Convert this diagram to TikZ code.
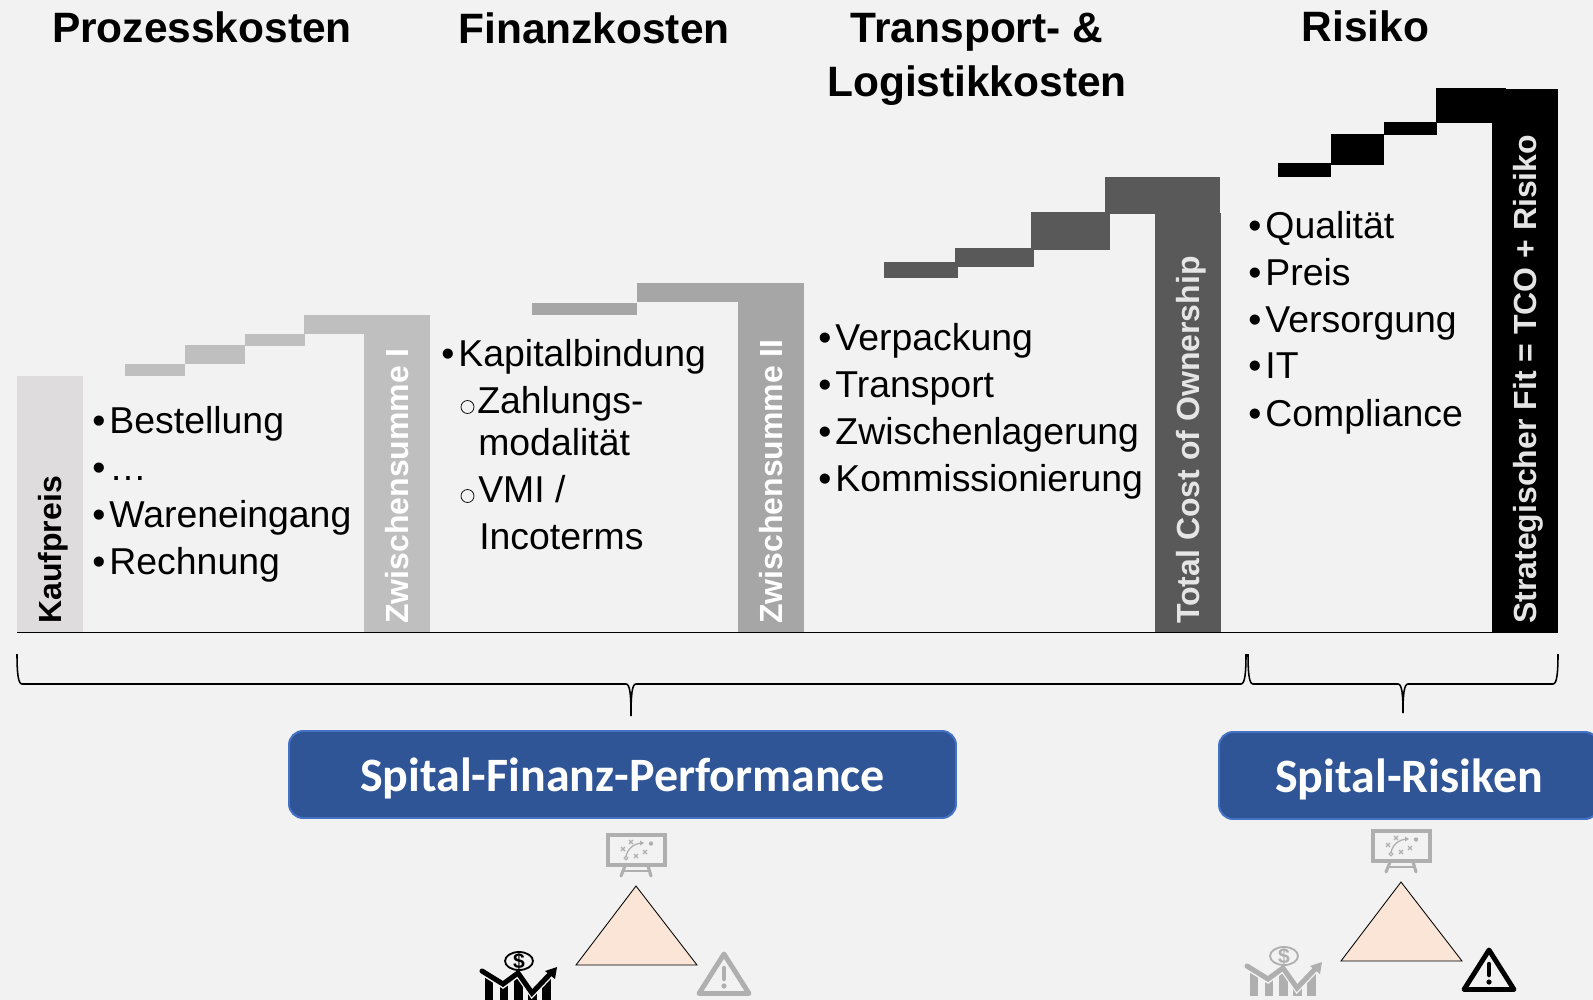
\documentclass[tikz,border=0pt]{standalone}
\usepackage{fontspec}
\setmainfont{Liberation Sans}
\newfontfamily\boxfont{Carlito}
\definecolor{page}{HTML}{F2F2F2}
\definecolor{kauf}{HTML}{DEDCDC}
\definecolor{sumone}{HTML}{BFBFBF}
\definecolor{sumtwo}{HTML}{A6A6A6}
\definecolor{tco}{HTML}{595959}
\definecolor{bluefill}{HTML}{2F5597}
\definecolor{blueline}{HTML}{4472C4}
\definecolor{peach}{HTML}{FBE5D6}
\definecolor{icon}{HTML}{AFAFAF}
\newlength{\px}
\setlength{\px}{.025cm}
\newcommand{\bul}{\makebox[12.2pt][l]{\textbullet}}
\begin{document}
\begin{tikzpicture}
   [x=.025cm,y=-.025cm,
      head/.style={font=\bfseries\fontsize{30.2}{34}\selectfont,inner sep=0pt,anchor=base},
      item/.style={font=\fontsize{26.6}{30}\selectfont,inner sep=0pt,anchor=base west},
      sub/.style={shape=circle,draw=black,line width=.5pt,inner sep=0pt,minimum size=13\px},
      upright/.style={font=\bfseries\fontsize{22.75}{26}\selectfont,inner sep=0pt,
      rotate=90,anchor=base west},
      result/.style={draw=blueline,line width=1.4pt,fill=bluefill,rounded corners=10pt,
      text=white,font=\boxfont\bfseries\fontsize{34.1}{38}\selectfont,inner sep=0pt,
      minimum height=87\px,text depth=0pt},
      bracket/.style={black,line width=1.1pt},
      corner/.style={draw=black,fill=peach,line width=.6pt,line join=miter}]
%%
\newcommand{\xybase}{632}
%% #1 left, #2 right, #3 tip, #4 tip depth
\newcommand{\spitalbrace}[4]{
\draw[bracket] (#1,654) .. controls (#1,672) and (#1+1,684) .. (#1+5,684)
 -- (#3-5,684) .. controls (#3-1,684) and (#3,695) .. (#3,#4)
 .. controls (#3,695) and (#3+1,684) .. (#3+5,684)
 -- (#2-5,684) .. controls (#2-1,684) and (#2,672) .. (#2,654);}
%% #1 left, #2 top, #3 colour
\newcommand{\boardicon}[3]{
\begin{scope}[shift={(#1,#2)},#3,line width=2.2pt]
\draw (1,1) rectangle (58,31);
\draw[line cap=round] (18,32) -- (14,42) (41,32) -- (44,42);
\draw[line width=1.6pt] (16,37) -- (43,37);
\draw[line width=.9pt] (19,23) .. controls (20,15) and (27,9) .. (36,9);
\fill (37,9) -- (33,6.5) -- (33,11.5) -- cycle;
\fill (44,9.5) circle (2.2);
\fill[page] (19,24) circle (1.8);
\draw[line width=.8pt] (19,24) circle (1.8);
\foreach \xa/\ya in {16/15,24/8,29/22,38/18}
 {\draw[line width=.8pt] (\xa-2,\ya-2) -- (\xa+2,\ya+2) (\xa-2,\ya+2) -- (\xa+2,\ya-2);}
\end{scope}}
%% #1,#2 centre of the coin, #3 colour, #4 name
\newcommand{\charticon}[4]{
\begin{scope}[shift={(#1,#2)},#3]
\begin{scope}
\clip (-37,11) -- (-16,24) -- (-1,13) -- (13,33) -- (34,9) -- (34,50) -- (-37,50) -- cycle;
\fill (-34,5) rectangle (-26,40);
\fill (-19,5) rectangle (-11,40);
\fill (-5,5) rectangle (4,40);
\fill (9,5) rectangle (18,40);
\fill (23,5) rectangle (32,40);
\end{scope}
\draw[page,line width=4.6pt] (-37,11) -- (-16,24) -- (-1,13) -- (13,33) -- (32,13);
\draw[line width=3.6pt,line cap=round] (-37,10) -- (-16,23) -- (-1,12) -- (13,32) -- (32,12);
\fill (38,6) -- (26,10) -- (36,18) -- cycle;
\draw[line width=1.3pt] (0,0) ellipse (14 and 9);
\node (#4) [inner sep=0pt,font=\bfseries\fontsize{15}{15}\selectfont,text=#3] at (0,0) {\$};
\end{scope}}
%% #1,#2 apex, #3 colour
\newcommand{\warnicon}[3]{
\begin{scope}[shift={(#1,#2)},#3]
\draw[line width=3.5pt,line join=round] (0,3) -- (-25,42.5) -- (25,42.5) -- cycle;
\draw[line width=3.2pt,line cap=round] (0,17) -- (0,28);
\fill (0,35) circle (2.6);
\end{scope}}
%%
\useasboundingbox (0,0) rectangle (1593,1000);
\clip (0,0) rectangle (1593,1000);
\fill[page] (0,0) rectangle (1593,1000);
%%
%% headings
\node (hproz) [head] at (202,42) {Prozesskosten};
\node (hfin) [head] at (594,43) {Finanzkosten};
\node (htra) [head] at (977,42) {Transport- \&};
\node (hlog) [head] at (977,96) {Logistikkosten};
\node (hrisk) [head] at (1365.5,41) {Risiko};
%%
%% stairs
\fill[kauf] (17,376) rectangle (83,\xybase);
\fill[sumone] (125,364) rectangle (185,376);
\fill[sumone] (185,345) rectangle (245,364);
\fill[sumone] (245,334) rectangle (305,346);
\fill[sumone] (304,315) rectangle (430,334);
\fill[sumone] (364,315) rectangle (430,\xybase);
%%
\fill[sumtwo] (532,303) rectangle (637,315);
\fill[sumtwo] (637,283) rectangle (804,302);
\fill[sumtwo] (738,283) rectangle (804,\xybase);
%%
\fill[tco] (884,262) rectangle (958,278);
\fill[tco] (955,248) rectangle (1034,267);
\fill[tco] (1031,212) rectangle (1110,250);
\fill[tco] (1105,177) rectangle (1220,214);
\fill[tco] (1155,213) rectangle (1221,\xybase);
%%
\fill[black] (1278,163) rectangle (1331,177);
\fill[black] (1331,134) rectangle (1384,165);
\fill[black] (1384,122) rectangle (1437,135);
\fill[black] (1436,88) rectangle (1506,123);
\fill[black] (1492,89) rectangle (1558,\xybase);
\draw[black,line width=.7pt] (17,\xybase) -- (1558,\xybase);
%%
%% bar labels
\node (kaufpreis) [upright] at (61,624) {Kaufpreis};
\node (zwi) [upright,text=white] at (408.5,624) {Zwischensumme I};
\node (zwii) [upright,text=white] at (782,624) {Zwischensumme II};
\node (total) [upright,text=white!90!black] at (1199.5,624) {Total Cost of Ownership};
\node (fit) [upright,text=white!90!black] at (1536.5,624) {Strategischer Fit = TCO + Risiko};
%%
%% lists
\node (best) [item] at (92,433) {\bul Bestellung};
\node (dots) [item] at (92,480) {\bul …};
\node (ware) [item] at (92,527) {\bul Wareneingang};
\node (rech) [item] at (92,574) {\bul Rechnung};
%%
\node (kap) [item] at (441,366) {\bul Kapitalbindung};
\node (oa) [sub] at (467.5,407) {};
\node (zah) [item] at (477,413) {Zahlungs-};
\node (mod) [item] at (478,455) {modalität};
\node (ob) [sub] at (467.5,496) {};
\node (vmi) [item] at (478,502) {VMI /};
\node (inco) [item] at (479,549) {Incoterms};
%%
\node (ver) [item] at (818,350) {\bul Verpackung};
\node (tra) [item] at (818,397) {\bul Transport};
\node (zwl) [item] at (818,444) {\bul Zwischenlagerung};
\node (kom) [item] at (818,491) {\bul Kommissionierung};
%%
\node (qua) [item] at (1248,238) {\bul Qualität};
\node (pre) [item] at (1248,285) {\bul Preis};
\node (vers) [item] at (1248,332) {\bul Versorgung};
\node (it) [item] at (1248,378) {\bul IT};
\node (comp) [item] at (1248,426) {\bul Compliance};
%%
%% braces
\spitalbrace{17}{1246}{631}{716}
\spitalbrace{1248}{1558}{1403}{713}
%%
%% result boxes
\node (perf) [result,minimum width=667\px] at (622.5,774.5) {Spital-Finanz-Performance};
\node (risk) [result,minimum width=380\px] at (1409,775.5) {Spital-Risiken};
%%
%% triangles and icons
\draw[corner] (636,886) -- (697,965) -- (576,965) -- cycle;
\draw[corner] (1401,882) -- (1462,961) -- (1341,961) -- cycle;
\boardicon{607}{834}{icon}
\charticon{519}{961}{black}{cha}
\warnicon{724}{951}{icon}
\boardicon{1372}{830}{icon}
\charticon{1284}{956}{icon}{chb}
\warnicon{1489}{947}{black}
\end{tikzpicture}
\end{document}
